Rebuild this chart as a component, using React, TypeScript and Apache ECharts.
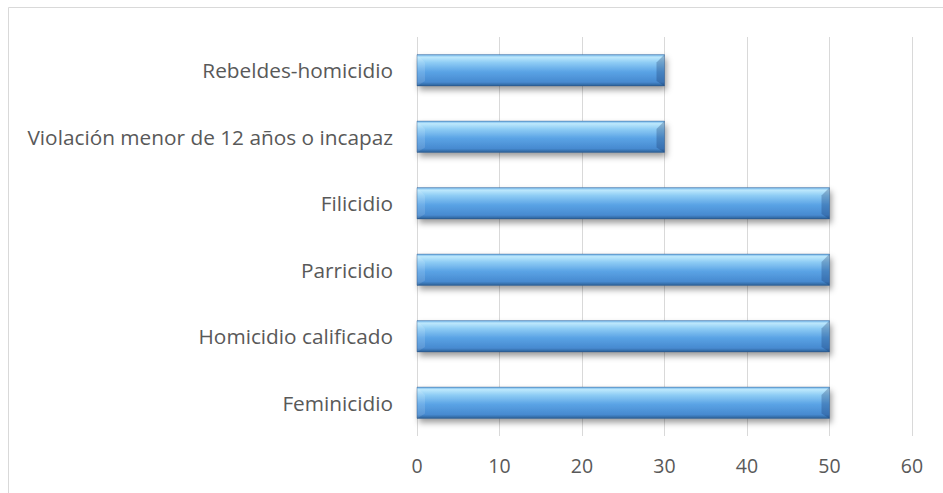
import React, { useEffect, useRef } from "react";
import * as echarts from "echarts";

const categories = [
  "Feminicidio",
  "Homicidio calificado",
  "Parricidio",
  "Filicidio",
  "Violación menor de 12 años o incapaz",
  "Rebeldes-homicidio",
];
const values = [50, 50, 50, 50, 30, 30];
const xTicks = { min: 0, max: 60, interval: 10 };

export default function App() {
  const ref = useRef<HTMLDivElement>(null);
  useEffect(() => {
    if (!ref.current) return;
    const chart = echarts.init(ref.current, null, { renderer: "svg" });
    const font = "'Open Sans', 'Noto Sans', sans-serif";
    chart.setOption({
      animation: false,
      backgroundColor: "#ffffff",
      graphic: [
        {
          type: "rect",
          shape: { x: 8.5, y: 7.5, width: 960, height: 520 },
          style: { fill: "none", stroke: "#d9d9d9", lineWidth: 1 },
          silent: true,
        },
      ],
      grid: { left: 417, right: 31, top: 37, bottom: 57 },
      xAxis: {
        type: "value",
        min: xTicks.min,
        max: xTicks.max,
        interval: xTicks.interval,
        axisLine: { show: false },
        axisTick: { show: false },
        splitLine: { show: true, lineStyle: { color: "#d9d9d9", width: 1 } },
        axisLabel: { color: "#595959", fontSize: 19.5, fontFamily: font, margin: 19 },
      },
      yAxis: {
        type: "category",
        data: categories,
        axisLine: { show: false },
        axisTick: { show: false },
        axisLabel: { color: "#595959", fontSize: 20.8, fontFamily: font, margin: 24 },
      },
      series: [
        {
          type: "custom",
          data: values.map((v, i) => [v, i]),
          encode: { x: 0, y: 1 },
          renderItem: (params: any, api: any) => {
            const v = api.value(0);
            const idx = api.value(1);
            const p0 = api.coord([0, idx]);
            const p1 = api.coord([v, idx]);
            const band = api.size([0, 1])[1];
            const h = band * 0.47;
            const x0 = p0[0];
            const x1 = p1[0];
            const y0 = p0[1] - h / 2;
            const y1 = p0[1] + h / 2;
            const b = 8;
            const grad = new echarts.graphic.LinearGradient(0, 0, 0, 1, [
              { offset: 0, color: "#6fb3ea" },
              { offset: 0.08, color: "#bde8fc" },
              { offset: 0.25, color: "#8fcdf5" },
              { offset: 0.55, color: "#5aa3e5" },
              { offset: 0.88, color: "#478ad0" },
              { offset: 1, color: "#2c5f96" },
            ]);
            return {
              type: "group",
              children: [
                {
                  type: "rect",
                  shape: { x: x0, y: y0, width: x1 - x0, height: y1 - y0 },
                  style: {
                    fill: grad,
                    shadowBlur: 6,
                    shadowOffsetX: 2,
                    shadowOffsetY: 4,
                    shadowColor: "rgba(0,0,0,0.4)",
                  },
                },
                {
                  type: "polygon",
                  shape: {
                    points: [
                      [x0, y0],
                      [x0 + b, y0 + b],
                      [x0 + b, y1 - b * 0.6],
                      [x0, y1],
                    ],
                  },
                  style: { fill: "rgba(255,255,255,0.12)" },
                },
                {
                  type: "polygon",
                  shape: {
                    points: [
                      [x1, y0],
                      [x1 - b, y0 + b],
                      [x1 - b, y1 - b * 0.6],
                      [x1, y1],
                    ],
                  },
                  style: { fill: "rgba(20,50,100,0.28)" },
                },
                {
                  type: "rect",
                  shape: { x: x0, y: y0, width: x1 - x0, height: y1 - y0 },
                  style: { fill: "none", stroke: "rgba(40,80,130,0.5)", lineWidth: 0.8 },
                },
              ],
            };
          },
        },
      ],
    });
    return () => chart.dispose();
  }, []);
  return (
    <div
      ref={ref}
      style={{ position: "absolute", left: 0, top: 0, width: 943, height: 493 }}
    />
  );
}
